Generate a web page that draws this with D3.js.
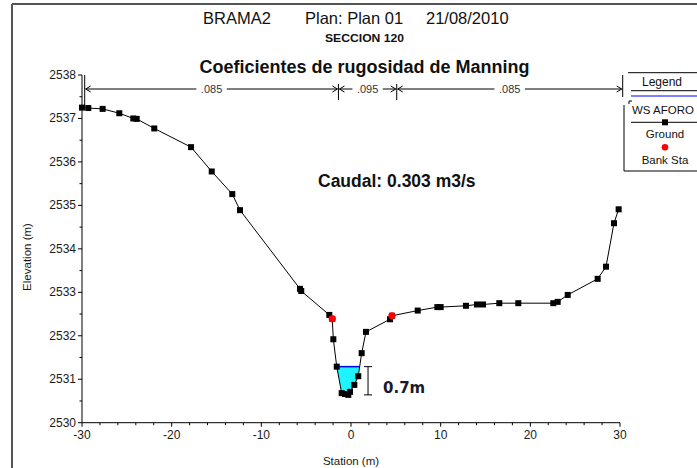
<!DOCTYPE html>
<html><head><meta charset="utf-8">
<script src="https://cdn.jsdelivr.net/npm/d3@7"></script>
<style>
html,body{margin:0;padding:0;background:#fff;}
svg{display:block;font-family:"Liberation Sans",Arial,sans-serif;}
</style></head>
<body>
<svg id="c" width="697" height="468"></svg>
<script>
// ---------- DATA ----------
const groundStation = [-30,-29.3,-27.7,-25.84,-24.28,-23.9,-21.94,-17.84,-15.53,-13.24,-12.38,-5.69,-5.55,-2.42,-2.09,-1.97,-1.59,-1.04,-0.67,-0.3,-0.11,0.37,0.81,1.19,1.67,4.35,4.57,7.44,9.63,10.0,12.82,14.05,14.72,16.54,18.66,22.56,23.05,24.17,27.51,28.44,29.33,29.85];
const groundElev    = [2537.25,2537.24,2537.22,2537.12,2537.0,2536.99,2536.77,2536.34,2535.78,2535.26,2534.89,2533.08,2533.03,2532.48,2532.39,2531.92,2531.29,2530.68,2530.66,2530.64,2530.71,2530.87,2531.07,2531.6,2532.09,2532.38,2532.46,2532.58,2532.66,2532.66,2532.69,2532.72,2532.72,2532.75,2532.75,2532.75,2532.78,2532.94,2533.31,2533.59,2534.59,2534.91];
const bankStations  = [-2.09, 4.57];
const waterSurface  = 2531.29;
const nBreaks       = [-29.7, -1.4, 5.1, 30.3];
const nValues       = [".085", ".095", ".085"];
const xTicks        = [-30,-20,-10,0,10,20,30];
const yTicks        = [2530,2531,2532,2533,2534,2535,2536,2537,2538];
const depthLabel    = "0.7m";
const depthStation  = 1.9;
const titleParts    = ["BRAMA2", "Plan: Plan 01", "21/08/2010"];
const subTitle      = "SECCION 120";
const mainTitle     = "Coeficientes de rugosidad de Manning";
const flowLabel     = "Caudal: 0.303 m3/s";
const legendItems   = ["Legend", "WS AFORO", "Ground", "Bank Sta"];

// ---------- SCALES ----------
const svg = d3.select("#c");
const x = d3.scaleLinear().domain([-30,30]).range([82,620]);
const y = d3.scaleLinear().domain([2530,2538]).range([422.7,75]);
const ground = groundStation.map((s,i)=>({s, e: groundElev[i]}));

// ---------- FRAME ----------
svg.append("line").attr("x1",12).attr("x2",697).attr("y1",4).attr("y2",4).attr("stroke","#555").attr("stroke-width",2);
svg.append("line").attr("x1",12).attr("x2",12).attr("y1",4).attr("y2",468).attr("stroke","#555").attr("stroke-width",2);

// ---------- TITLES ----------
const tx = [203, 305, 426];
titleParts.forEach((t,i)=>{
  svg.append("text").attr("x",tx[i]).attr("y",24).attr("font-size",16.5).attr("fill","#111").text(t);
});
svg.append("text").attr("x",364.5).attr("y",42).attr("text-anchor","middle").attr("font-size",10.5).attr("font-weight","bold")
  .attr("fill","#111").attr("textLength",79).attr("lengthAdjust","spacingAndGlyphs").text(subTitle);
svg.append("text").attr("x",364.5).attr("y",73).attr("text-anchor","middle").attr("font-size",18).attr("font-weight","bold")
  .attr("fill","#111").text(mainTitle);
svg.append("text").attr("x",318).attr("y",187).attr("font-size",17.5).attr("font-weight","bold")
  .attr("fill","#111").text(flowLabel);

// ---------- AXES ----------
const ax = svg.append("g").attr("stroke","#000").attr("stroke-width",1);
ax.append("line").attr("x1",x(-30)).attr("x2",x(-30)).attr("y1",y(2538)).attr("y2",y(2530));
ax.append("line").attr("x1",x(-30)).attr("x2",x(30)).attr("y1",y(2530)).attr("y2",y(2530));
d3.range(-30,30.01,2).forEach(v=>{
  const major = xTicks.includes(v);
  ax.append("line").attr("x1",x(v)).attr("x2",x(v)).attr("y1",y(2530)).attr("y2",y(2530)+(major?4:2.5));
});
d3.range(2530,2538.01,0.5).forEach(v=>{
  const major = yTicks.includes(v);
  ax.append("line").attr("x1",x(-30)).attr("x2",x(-30)-(major?4:2.5)).attr("y1",y(v)).attr("y2",y(v));
});
svg.append("g").selectAll("text").data(xTicks).join("text")
  .attr("x",d=>x(d)).attr("y",439).attr("text-anchor","middle").attr("font-size",12).attr("fill","#1a1a1a").text(d=>d);
svg.append("g").selectAll("text").data(yTicks).join("text")
  .attr("x",76).attr("y",d=>y(d)+4).attr("text-anchor","end").attr("font-size",12).attr("fill","#1a1a1a").text(d=>d);
svg.append("text").attr("x",351).attr("y",465).attr("text-anchor","middle").attr("font-size",11.5).attr("fill","#1a1a1a").text("Station (m)");
svg.append("text").attr("transform","translate(31,257) rotate(-90)").attr("text-anchor","middle").attr("font-size",11.5).attr("fill","#1a1a1a").text("Elevation (m)");

// ---------- MANNING n BAR ----------
const nb = svg.append("g").attr("stroke","#000").attr("stroke-width",1).attr("fill","none");
const ny = 89;
nValues.forEach((t,i)=>{
  const a = x(nBreaks[i]), b = x(nBreaks[i+1]);
  const c = (a+b)/2;
  const tw = t.length*5.6;
  nb.append("line").attr("x1",a+1).attr("x2",c-tw/2-4).attr("y1",ny).attr("y2",ny);
  nb.append("line").attr("x1",c+tw/2+4).attr("x2",b-1).attr("y1",ny).attr("y2",ny);
  nb.append("path").attr("d",`M${a+6},${ny-3}L${a+1},${ny}L${a+6},${ny+3}`);
  nb.append("path").attr("d",`M${b-6},${ny-3}L${b-1},${ny}L${b-6},${ny+3}`);
  svg.append("text").attr("x",c).attr("y",ny+4).attr("text-anchor","middle").attr("font-size",11).attr("fill","#333").text(t);
});
nBreaks.forEach((v,i)=>{
  const outer = (i===0 || i===nBreaks.length-1);
  nb.append("line").attr("x1",x(v)).attr("x2",x(v))
    .attr("y1", outer ? 75 : 84).attr("y2", i===0 ? 107 : (outer ? 97 : 100));
});

// ---------- WATER ----------
const wet = [];
for (let i=1;i<ground.length;i++){
  const p=ground[i-1], q=ground[i];
  const pin = p.e<=waterSurface, qin = q.e<=waterSurface;
  if (pin!==qin){
    const t=(waterSurface-p.e)/(q.e-p.e);
    wet.push({s:p.s+t*(q.s-p.s), e:waterSurface, cross:true});
  }
  if (qin) wet.push({s:q.s,e:q.e});
}
if (ground[0].e<=waterSurface) wet.unshift(ground[0]);
const wl = wet.filter(d=>d.cross);
svg.append("path").attr("d", d3.line().x(d=>x(d.s)).y(d=>y(d.e))(wet)+"Z")
  .attr("fill","#1ef4ff").attr("stroke","none");
svg.append("line").attr("x1",x(wl[0].s)).attr("x2",x(wl[wl.length-1].s)).attr("y1",y(waterSurface)).attr("y2",y(waterSurface))
  .attr("stroke","#0000ff").attr("stroke-width",1.5);

// ---------- GROUND ----------
svg.append("path").attr("d", d3.line().x(d=>x(d.s)).y(d=>y(d.e))(ground))
  .attr("fill","none").attr("stroke","#000").attr("stroke-width",1);
svg.append("g").selectAll("rect").data(ground).join("rect")
  .attr("x",d=>x(d.s)-3).attr("y",d=>y(d.e)-3).attr("width",6).attr("height",6).attr("fill","#000");

const interp = s => { for(let i=1;i<ground.length;i++){ if(ground[i].s>=s){const p=ground[i-1],q=ground[i];return p.e+(s-p.s)/(q.s-p.s)*(q.e-p.e);} } return ground[ground.length-1].e; };
svg.append("g").selectAll("circle").data(bankStations).join("circle")
  .attr("cx",d=>x(d)).attr("cy",d=>y(interp(d))).attr("r",3.6).attr("fill","#ff0000");

// ---------- DEPTH ANNOTATION ----------
const minBed = d3.min(groundElev);
const ag = svg.append("g").attr("stroke","#000").attr("stroke-width",1);
ag.append("line").attr("x1",x(depthStation)).attr("x2",x(depthStation)).attr("y1",y(waterSurface)).attr("y2",y(minBed));
ag.append("line").attr("x1",x(depthStation)-4).attr("x2",x(depthStation)+4).attr("y1",y(waterSurface)).attr("y2",y(waterSurface));
ag.append("line").attr("x1",x(depthStation)-4).attr("x2",x(depthStation)+4).attr("y1",y(minBed)).attr("y2",y(minBed));
svg.append("text").attr("x",383).attr("y",393).attr("font-family","'DejaVu Sans',sans-serif").attr("font-size",15).attr("font-weight","bold")
  .attr("fill","#1a1a2a").text(depthLabel);

// ---------- LEGEND ----------
const lg = svg.append("g");
lg.append("line").attr("x1",628).attr("x2",697).attr("y1",72.7).attr("y2",72.7).attr("stroke","#000");
lg.append("path").attr("d","M624,105V171H697").attr("fill","none").attr("stroke","#000");
lg.append("text").attr("x",662).attr("y",86).attr("text-anchor","middle").attr("font-size",12).attr("fill","#111").text(legendItems[0]);
lg.append("line").attr("x1",631).attr("x2",697).attr("y1",90.7).attr("y2",90.7).attr("stroke","#000");
lg.append("line").attr("x1",631).attr("x2",697).attr("y1",96).attr("y2",96).attr("stroke","#0000ff").attr("stroke-width",1.2);
lg.append("path").attr("d","M629,104V101H632").attr("fill","none").attr("stroke","#000");
lg.append("text").attr("x",632).attr("y",114).attr("font-size",11.5).attr("fill","#111").text(legendItems[1]);
lg.append("line").attr("x1",631).attr("x2",697).attr("y1",122.3).attr("y2",122.3).attr("stroke","#000");
lg.append("rect").attr("x",662).attr("y",119.3).attr("width",6).attr("height",6).attr("fill","#000");
lg.append("text").attr("x",665).attr("y",138).attr("text-anchor","middle").attr("font-size",11.5).attr("fill","#111").text(legendItems[2]);
lg.append("circle").attr("cx",665).attr("cy",147.3).attr("r",3.3).attr("fill","#ff0000");
lg.append("text").attr("x",665).attr("y",164).attr("text-anchor","middle").attr("font-size",11.5).attr("fill","#111").text(legendItems[3]);
</script>
</body></html>
